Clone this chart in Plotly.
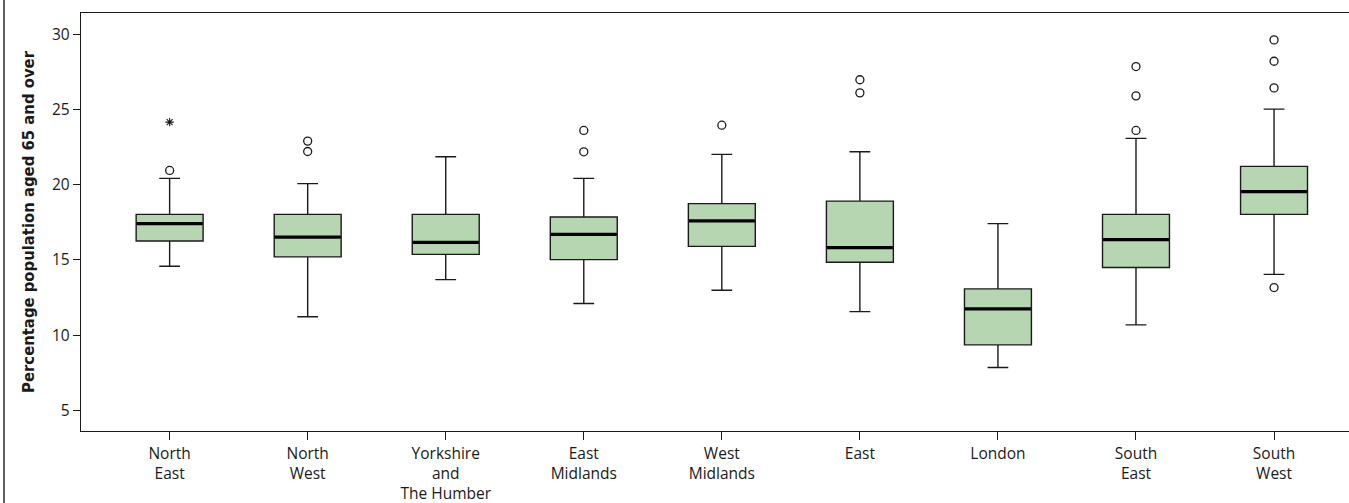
import plotly.graph_objects as go

categories = ["North<br>East", "North<br>West", "Yorkshire<br>and<br>The Humber",
              "East<br>Midlands", "West<br>Midlands", "East", "London",
              "South<br>East", "South<br>West"]
lower_whisker = [14.58, 11.22, 13.69, 12.10, 12.98, 11.56, 7.84, 10.68, 14.04]
q1_values     = [16.26, 15.20, 15.37, 15.02, 15.90, 14.84, 9.35, 14.49, 18.03]
medians       = [17.41, 16.52, 16.17, 16.70, 17.59, 15.81, 11.74, 16.35, 19.54]
q3_values     = [18.03, 18.03, 18.03, 17.85, 18.74, 18.91, 13.07, 18.03, 21.22]
upper_whisker = [20.42, 20.07, 21.86, 20.42, 22.02, 22.19, 17.41, 23.08, 25.03]
outliers = [
    [20.95],
    [22.90, 22.21],
    [],
    [23.61, 22.19],
    [23.96],
    [26.98, 26.11],
    [],
    [27.86, 25.91, 23.61],
    [29.63, 28.21, 26.44, 13.16],
]
extreme_category = ["North<br>East"]
extreme_values = [24.16]
y_ticks = [5, 10, 15, 20, 25, 30]

FILL = "#b5d6b1"
LINE = "#1a1a1a"

fig = go.Figure()
fig.add_trace(go.Box(
    x=categories, q1=q1_values, median=medians, q3=q3_values,
    lowerfence=lower_whisker, upperfence=upper_whisker,
    fillcolor=FILL, line=dict(color=LINE, width=1.4),
    width=0.485, whiskerwidth=0.31, boxpoints=False,
    showlegend=False, hoverinfo="skip",
))
# thick median bars (line-ew length = 1.4 * size)
fig.add_trace(go.Scatter(
    x=categories, y=medians, mode="markers",
    marker=dict(symbol="line-ew-open", size=47, color="black",
                line=dict(color="black", width=3.2)),
    showlegend=False, hoverinfo="skip",
))
ox, oy = [], []
for c, vals in zip(categories, outliers):
    for v in vals:
        ox.append(c)
        oy.append(v)
fig.add_trace(go.Scatter(
    x=ox, y=oy, mode="markers",
    marker=dict(symbol="circle-open", size=8, color=LINE, line=dict(width=1.3, color=LINE)),
    showlegend=False, hoverinfo="skip",
))
fig.add_trace(go.Scatter(
    x=extreme_category, y=extreme_values, mode="markers",
    marker=dict(symbol="asterisk-open", size=7, color=LINE, line=dict(width=1.1, color=LINE)),
    showlegend=False, hoverinfo="skip",
))

W, H = 1349, 503
L, R, T, B = 81, 0, 13, 72
fig.update_layout(
    width=W, height=H,
    margin=dict(l=L, r=R, t=T, b=B),
    paper_bgcolor="white", plot_bgcolor="white",
    font=dict(family="Open Sans", size=15.5, color="#1a1a1a"),
    xaxis=dict(
        type="category", categoryorder="array", categoryarray=categories,
        range=[-0.642, 8.543],
        showline=True, linecolor=LINE, linewidth=1.4, mirror=True,
        ticks="outside", ticklen=8, tickcolor=LINE, tickwidth=1.3,
        showgrid=False, zeroline=False,
        tickfont=dict(family="Open Sans", size=15.5),
    ),
    yaxis=dict(
        range=[3.62, 31.42], tickvals=y_ticks,
        showline=True, linecolor=LINE, linewidth=1.4,
        ticks="outside", ticklen=7, tickcolor=LINE, tickwidth=1.3,
        showgrid=False, zeroline=False,
        tickfont=dict(family="Open Sans", size=15.5),
        title=dict(text="<b>Percentage population aged 65 and over</b>",
                   font=dict(family="DejaVu Sans Condensed, Open Sans", size=16.5),
                   standoff=13),
    ),
    shapes=[dict(type="line", xref="paper", yref="paper",
                 x0=(4 - L) / (W - L - R), x1=(4 - L) / (W - L - R),
                 y0=-0.3, y1=1.1, line=dict(color=LINE, width=1.4))],
)

fig.write_html("out.html", config={"displayModeBar": False},
               post_script="document.body.style.margin='0px';")
